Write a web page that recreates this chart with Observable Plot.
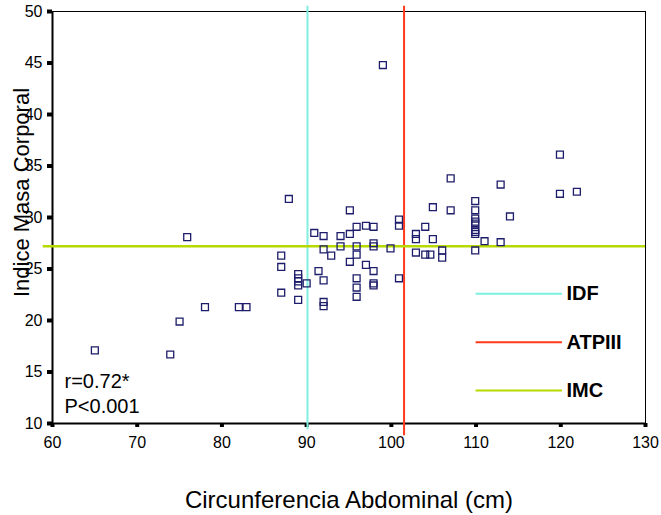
<!DOCTYPE html>
<html><head><meta charset="utf-8">
<script src="https://cdn.jsdelivr.net/npm/d3@7"></script>
<script src="https://cdn.jsdelivr.net/npm/@observablehq/plot@0.6"></script>
<style>body{margin:0;background:#fff}</style>
</head><body><div id="chart"></div>
<script>
const circunferencia = [65.0, 73.9, 75.0, 75.9, 78.0, 82.0, 82.9, 87.0, 87.0, 87.0, 87.9,
  89.0, 89.0, 89.0, 89.0, 89.0, 90.0, 90.9, 91.4, 92.0, 92.0, 92.0, 92.0, 92.0, 92.9,
  94.0, 94.0, 95.1, 95.1, 95.1, 95.9, 95.9, 95.9, 95.9, 95.9, 95.9, 97.0, 97.0,
  97.9, 97.9, 97.9, 97.9, 97.9, 97.9, 99.0, 99.9, 100.9, 100.9, 100.9,
  102.9, 102.9, 102.9, 104.0, 104.0, 104.6, 104.9, 104.9, 106.0, 106.0, 107.0, 107.0,
  109.9, 109.9, 109.9, 109.9, 109.9, 109.9, 109.9, 109.9, 109.9, 111.0, 112.9, 112.9,
  114.0, 119.9, 119.9, 121.9];
const imc = [17.1, 16.7, 19.9, 28.1, 21.3, 21.3, 21.3, 26.3, 25.2, 22.7, 31.8,
  24.5, 24.1, 23.8, 23.4, 22.0, 23.6, 28.5, 24.8, 28.2, 26.9, 23.9, 21.8, 21.4, 26.3,
  28.2, 27.2, 30.7, 28.4, 25.7, 29.1, 27.2, 26.4, 24.1, 23.2, 22.3, 29.2, 25.4,
  29.1, 27.5, 27.2, 24.8, 23.6, 23.4, 44.8, 27.0, 29.8, 29.2, 24.1,
  28.4, 27.9, 26.6, 29.1, 26.4, 26.4, 31.0, 27.9, 26.8, 26.1, 33.8, 30.7,
  31.6, 30.7, 29.9, 29.6, 29.4, 28.8, 28.6, 28.4, 26.8, 27.7, 33.2, 27.6,
  30.1, 36.1, 32.3, 32.5];
const xTicks = [60, 70, 80, 90, 100, 110, 120, 130];
const yTicks = [10, 15, 20, 25, 30, 35, 40, 45, 50];
const cutoffNames = ["IDF", "ATPIII", "IMC"];
const cutoffValues = [90.1, 101.5, 27.2];
const cutoffColors = ["#7ff0e0", "#ff3a1a", "#b8d900"];
const statLines = ["r=0.72*", "P<0.001"];
const xLabel = "Circunferencia Abdominal (cm)";
const yLabel = "Indice Masa Corporal";

const points = circunferencia.map((x, i) => ({x, y: imc[i]}));
const legend = cutoffNames.map((name, i) => ({name, color: cutoffColors[i], i}));

const chart = Plot.plot({
  width: 661, height: 515,
  marginLeft: 52, marginRight: 16, marginTop: 11, marginBottom: 92,
  style: {fontFamily: "'Liberation Sans', Arial, sans-serif", background: "white", color: "black", overflow: "visible"},
  x: {domain: [60, 130]},
  y: {domain: [10, 50]},
  color: {type: "identity"},
  marks: [
    Plot.frame({stroke: "black", strokeWidth: 1}),
    Plot.ruleX([60], {stroke: "black", strokeWidth: 2}),
    Plot.ruleY([10], {stroke: "black", strokeWidth: 2}),
    Plot.axisX({ticks: xTicks, tickSize: 4, tickPadding: 9.5, fontSize: 16, strokeWidth: 4, label: null, tickFormat: d => d}),
    Plot.axisY({ticks: yTicks, tickSize: 5, tickPadding: 5, fontSize: 16, strokeWidth: 4, label: null, tickFormat: d => d}),
    Plot.ruleX([cutoffValues[0]], {y1: 50.5, y2: 9.4, stroke: cutoffColors[0], strokeWidth: 2}),
    Plot.ruleX([cutoffValues[1]], {y1: 50.5, y2: 8.8, stroke: cutoffColors[1], strokeWidth: 2}),
    Plot.ruleY([cutoffValues[2]], {x1: 58.9, x2: 130, stroke: cutoffColors[2], strokeWidth: 2.5}),
    Plot.ruleY(legend, {y: d => 22.6 - d.i * 4.7, x1: 110, x2: 120.2, stroke: "color", strokeWidth: 2}),
    Plot.text(legend, {y: d => 22.6 - d.i * 4.7, x: 120.2, dx: 4, text: "name", textAnchor: "start", fontSize: 20, fontWeight: "bold", fill: "black"}),
    Plot.text([statLines[0]], {frameAnchor: "bottom-left", dx: 12, dy: -36, textAnchor: "start", lineAnchor: "bottom", fontSize: 20, fill: "black"}),
    Plot.text([statLines[1]], {frameAnchor: "bottom-left", dx: 12, dy: -11, textAnchor: "start", lineAnchor: "bottom", fontSize: 20, fill: "black"}),
    Plot.text([xLabel], {frameAnchor: "bottom", dy: 77, textAnchor: "middle", lineAnchor: "middle", fontSize: 24, fill: "black"}),
    Plot.text([yLabel], {frameAnchor: "left", dx: -31, dy: -25, rotate: -90, textAnchor: "middle", lineAnchor: "middle", fontSize: 22, fill: "black"}),
    Plot.dot(points, {x: "x", y: "y", symbol: "square", r: 3.9, stroke: "#1d1d6b", strokeWidth: 1.3, fill: "none"})
  ]
});
document.getElementById("chart").appendChild(chart);
</script>
</body></html>
